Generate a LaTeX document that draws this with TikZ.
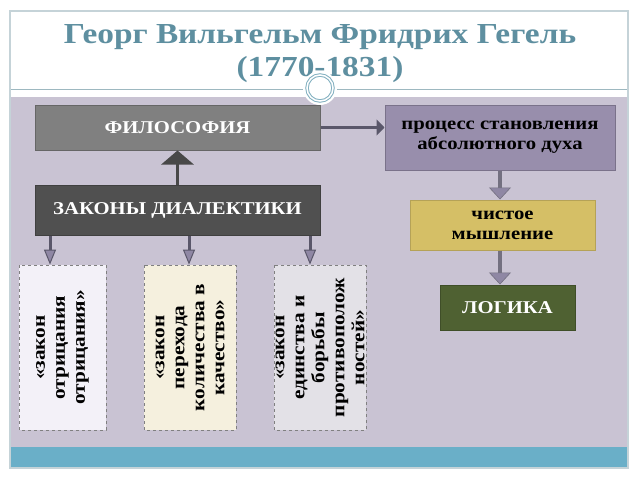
\documentclass[tikz,border=0pt]{standalone}
\usepackage{fontspec}
\setmainfont[FakeStretch=1.15]{Liberation Serif}
\usetikzlibrary{arrows.meta}

\definecolor{titleblue}{RGB}{94,143,160}
\definecolor{framegray}{RGB}{197,211,216}
\definecolor{linegray}{RGB}{157,184,192}
\definecolor{ringblue}{RGB}{130,176,192}
\definecolor{lilacbg}{RGB}{201,195,211}
\definecolor{bandblue}{RGB}{106,175,200}
\definecolor{filgray}{RGB}{128,128,128}
\definecolor{zakgray}{RGB}{80,80,80}
\definecolor{proclilac}{RGB}{152,142,172}
\definecolor{mustard}{RGB}{213,191,102}
\definecolor{olive}{RGB}{79,97,50}
\definecolor{paleone}{RGB}{243,241,248}
\definecolor{paletwo}{RGB}{245,240,222}
\definecolor{palethree}{RGB}{227,225,231}
\definecolor{arrowgray}{RGB}{90,87,106}
\definecolor{headlilac}{RGB}{143,135,164}

\begin{document}
\begin{tikzpicture}[x=1pt, y=-1pt,
    box/.style ={draw, line width=1pt, inner sep=0pt, align=center,
      font=\bfseries\fontsize{18}{20}\selectfont},
    law/.style ={draw=gray, dashed, line width=0.8pt, inner sep=0pt, align=center,
      rotate=90, minimum width=165pt, font=\bfseries\fontsize{18.5}{20}\selectfont},
    uparrow/.style ={line width=3pt, draw=zakgray!90!black,
      -{Triangle[width=32pt,length=14pt]}},
    rarrow/.style ={line width=3pt, draw=arrowgray,
      -{Triangle[width=16pt,length=8pt]}},
    dnarrow/.style ={line width=3pt, draw=arrowgray,
      -{Triangle[width=12pt,length=15pt,line width=1pt,fill=headlilac]}},
    bigdown/.style ={line width=4pt, draw=arrowgray!85,
      -{Triangle[width=22pt,length=12pt,line width=0.6pt,fill=headlilac]}}]
   \useasboundingbox (0,0) rectangle (640,480);
   \fill[white] (0,0) rectangle (640,480);

   % frame and bands
   \fill[lilacbg] (10,97) rectangle (628,447);
   \fill[bandblue] (10,447) rectangle (628,468);
   \draw[linegray, line width=1pt] (10,89) -- (628,89);
   \draw[framegray, line width=1.5pt] (10,11) rectangle (628,468);

   \node[font=\bfseries\fontsize{29}{33}\selectfont, text=titleblue, align=center]
     (ttl) at (320,54) {Георг Вильгельм Фридрих Гегель\\(1770-1831)};
   \fill[white] (320,88) circle (17);
   \draw[ringblue, line width=1pt, double=white, double distance=1.5pt] (320,88) circle (13);

   % boxes
   \node[box, fill=filgray, draw=filgray!80!black, text=white,
     minimum width=285pt, minimum height=45pt] (fil) at (177.5,127.5) {ФИЛОСОФИЯ};
   \node[box, fill=zakgray, draw=zakgray!80!black, text=white,
     minimum width=285pt, minimum height=50pt] (zak) at (177.5,210) {ЗАКОНЫ ДИАЛЕКТИКИ};
   \node[box, fill=proclilac, draw=proclilac!80!black,
     minimum width=230pt, minimum height=65pt] (proc) at (500,137.5)
     {процесс становления\\абсолютного духа};
   \node[box, fill=mustard, draw=mustard!85!black,
     minimum width=185pt, minimum height=50pt] (chist) at (502.5,225)
     {чистое\\мышление};
   \node[box, fill=olive, draw=olive!80!black, text=white,
     minimum width=135pt, minimum height=45pt] (logik) at (507.5,307.5) {ЛОГИКА};

   \node[law, fill=paleone, minimum height=87pt] (neg) at (62.5,347.5)
     {«закон\\отрицания\\отрицания»};
   \node[law, fill=paletwo, minimum height=92pt] (qual) at (190,347.5)
     {«закон\\перехода\\количества в\\качество»};
   \node[law, fill=palethree, minimum height=92pt] (unity) at (320,347.5)
     {«закон\\единства и\\борьбы\\противополож\\ностей»};

   % connectors
   \coordinate (a1) at (50,0);
   \coordinate (a2) at (189,0);
   \coordinate (a3) at (310,0);
   \coordinate (a4) at (500,0);
   \draw[uparrow] (zak) to (fil);
   \draw[rarrow] (fil) to (proc.west |- fil);
   \draw[dnarrow] (zak.south -| a1) to (neg.east -| a1);
   \draw[dnarrow] (zak.south -| a2) to (qual.east -| a2);
   \draw[dnarrow] (zak.south -| a3) to (unity.east -| a3);
   \draw[bigdown] (proc.south -| a4) to (chist.north -| a4);
   \draw[bigdown] (chist.south -| a4) to (logik.north -| a4);
 \end{tikzpicture}
\end{document}
